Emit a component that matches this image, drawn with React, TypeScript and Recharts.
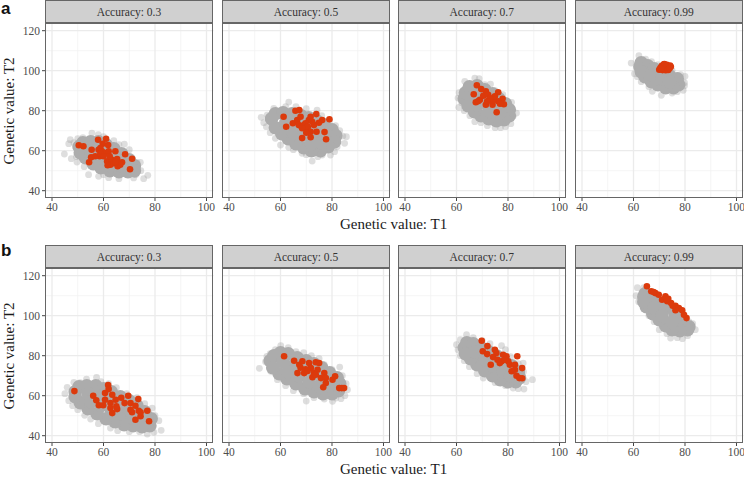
import { ReferenceLine, Scatter, ScatterChart, XAxis, YAxis } from "recharts";

type Pair = number[];

// panel a
const coreA3: Pair[] = [[50.5,62],[52,64],[55,64.5],[58,64.5],[61,63],[64,61],[67,58.5],[70,55.5],[72,52.5],[72,50],[69.5,49.5],[66,49.5],[62.5,50],[59,51.5],[56,53.5],[53,56.5],[51,59],[55,60],[59,60],[63,58],[58,56.5],[62,55],[66,55],[67,52.5],[63,52.5]];
const edgeA3: Pair[] = [[44.8,58.3],[46.5,63.5],[47.1,65.5],[48.5,64],[50,66],[52,66.5],[55.5,68.8],[58,68],[60,67],[64,65],[66,63],[68.1,63.3],[70,60.5],[68,59.5],[73,54],[74.3,54.2],[74.5,50],[77.2,47.7],[75.6,46],[71.7,46.4],[66,46],[62,46.5],[58.1,47.2],[54.2,48],[52.5,52],[49.7,54.3],[47.5,56],[49.5,57],[60,48],[72.5,48]];
const redA3: Pair[] = [[50.4,62.7],[52.2,62.2],[55.4,60.5],[54.4,54.2],[55.2,56.7],[57.9,65.5],[61,66],[59.7,63.5],[61.8,62.8],[58.1,60.5],[58.8,61.3],[59.4,59.7],[58.5,57.2],[56.8,57.2],[60.7,58.8],[62,59.7],[64.6,59.7],[68.4,58.2],[71.1,56],[70.3,50.7],[61.4,54.7],[63.3,55.5],[65.3,55.8],[64,53.8],[65.5,52.2],[67.2,54.2],[62.7,53],[66.5,53],[58.8,58.5],[60,57.2],[62.4,57.2],[64.6,54.4],[61.6,52.7]];

const coreA5: Pair[] = [[56.5,76],[58,78.5],[61,79],[64.5,78.5],[68,77.5],[71,76.5],[74,75],[77,73],[80,70.5],[81.5,67.5],[81,64.5],[78.5,62],[75.5,60],[72,60],[69,61.5],[66,63.5],[63,66],[60.5,68.5],[58,71.5],[62,74],[66,74],[70,73],[74,71],[65,69],[69,68],[73,67],[77,67],[72,63.5],[76,64]];
const edgeA5: Pair[] = [[52.5,76.7],[54.8,77.8],[57.4,81.2],[62,82],[63.2,84.3],[66,82],[70,81],[74.2,80.3],[76,77.5],[79,75],[81.4,72.5],[83,70],[85.6,67],[84.2,67.3],[84.9,63.7],[82,62],[81,59.5],[79.4,57.8],[76.2,57.8],[74.5,57],[72.3,54.8],[70,58],[68.4,58.7],[65,60.5],[63.2,61.7],[60,62.8],[58,66.2],[56,69],[54.5,72],[53.5,74]];
const redA5: Pair[] = [[61.2,77],[62.2,72],[65.8,80],[67.3,80.3],[64.8,73.7],[66.5,75.3],[67.8,77],[67.1,72.8],[69.1,72.8],[71,75.3],[73.9,78.3],[71.7,77],[76.2,75.3],[74.9,74],[79,75.7],[73,72.8],[70.4,70.3],[68.4,66.3],[71.7,66.7],[74,69.5],[77.1,69.3],[77.7,65.7],[69.7,73.7],[70.6,72],[72.3,74.5],[71.7,69.5],[68.4,71.2],[70,69]];

const coreA7: Pair[] = [[63,86],[63.5,89],[65,92],[68,92.5],[71,90.5],[74,88.5],[76.5,86],[79,83.5],[80.5,80.5],[80.5,77.5],[78.5,75.5],[75.5,75],[72.5,76],[69.5,77.5],[67,79.5],[64.5,82.5],[67,88],[70,86],[68,83],[72,83],[75.5,82],[73,79.5],[77,79]];
const edgeA7: Pair[] = [[60.9,81.7],[60.6,86.3],[61,89],[63.2,94.7],[65,93],[67.1,96.3],[68.8,96],[71,93],[73.2,93.3],[75,90],[78,88],[81.4,84.2],[83.3,78.8],[82,77.2],[81.1,73.5],[79,72],[77.1,71.5],[75,71.5],[72,72.5],[69.5,74],[67.1,74.5],[65.2,77.5],[63,80],[62,84]];
const redA7: Pair[] = [[67.9,92.7],[66.7,88.2],[69.6,90.8],[71.4,89.7],[76.2,89.2],[67.5,84.2],[69.1,85.5],[70.4,87.5],[72.3,88],[71.4,83],[74,83],[75.6,79.2],[78.4,83.2],[77.9,86],[76.2,84.7],[74.2,85.2],[72.7,85.2],[74.9,87.2],[73,86.3],[71.9,84.7],[76.9,83.5],[68.5,84.8]];

const coreA99: Pair[] = [[62.5,102],[63,104],[65.5,102.5],[68,101],[71,99],[74,97.5],[77,96],[77.5,93],[75.5,91.5],[72.5,91.5],[69.5,93],[67,94.5],[64.5,97],[63,99.5],[67,98],[71,96],[74,94.5]];
const edgeA99: Pair[] = [[59.1,103.8],[60.4,98.5],[62.1,107.5],[64.7,105.8],[67,104.5],[69.5,103],[72,101],[75,100],[78.3,98],[80,97.2],[79.8,94],[79.8,92.5],[79.3,90.2],[77,89.5],[75,88.8],[70.8,87.7],[67.3,89.7],[66,92],[63,94.5],[61.5,97]];
const redA99: Pair[] = [[70,100.5],[70.5,101.5],[71,102.5],[71.3,100.3],[71.8,103.2],[72,101.3],[72.5,100.2],[72.8,102],[73,103],[73.3,100.8],[73.8,101.8],[74.2,102.6],[74.5,102],[70.3,100.8],[71.5,101.8],[72.2,102.6],[73.5,100.4],[72,103.3],[70.8,101],[74,101.2]];

// panel b
const coreB3: Pair[] = [[49,62],[50.5,64.5],[53.5,65],[57,65],[60,63.5],[63,62],[66.5,59.5],[70,57.5],[73,55],[76,52],[78.5,48.5],[78,45],[75,44.5],[71.5,45],[68,45.5],[64.5,47],[61,48.5],[57.5,51],[54,53.5],[51,56.5],[49,59.5],[54,61],[58,60],[62,58],[55,57],[59,55],[63,53],[67,51],[71,49],[75,48],[66,56],[70,53],[74,50.5]];
const edgeB3: Pair[] = [[45,61],[46.5,57.5],[45.9,64.2],[48.5,66.7],[51,66.5],[53.4,68.3],[57.3,69.2],[59,67],[62,66],[65,64],[69,61],[73,59],[76,56],[78.9,53.8],[80,50],[81.5,47.5],[82.4,42.7],[79.6,41.7],[77,40.8],[74,42],[70,42],[65.5,42.5],[62.7,43.8],[58,46],[55,48.3],[52.7,50.2],[50,53],[48,55]];
const redB3: Pair[] = [[48.7,62.3],[56,60],[61.8,65.3],[62,63.3],[60.6,61.3],[63.4,60.5],[57.2,57.7],[58.2,55.2],[60.6,58],[59.9,55.2],[62.7,56.3],[64.7,58],[66.9,59],[69.6,60],[73.5,58.3],[68.2,56.3],[70.5,56.3],[72.4,55],[77,52.5],[77.7,47.2],[72.4,48],[74.4,49.7],[71.1,51.7],[70.5,53],[63.4,51.3],[65.3,53.3],[62.7,53.8],[65,54.7],[73.7,52.5],[74.4,51.7]];

const coreB5: Pair[] = [[56,77.5],[57.5,80],[60,81.5],[63,81],[66.5,79],[70,77.5],[73,76],[76,74],[79,71.5],[82,69],[83,66],[82.5,62.5],[80,61],[76.5,61],[73,62],[69.5,63.5],[66,66],[62.5,68.5],[59.5,71],[57,74],[61,77],[65,75],[69,73],[73,71],[77,68.5],[63,72],[67,70],[71,67],[75,65],[79,65]];
const edgeB5: Pair[] = [[51.8,73.7],[54.7,79.7],[54.2,77],[56,81],[58,83],[60.1,85],[63,84],[66,82],[69,81.5],[72,80],[75,78.5],[77,75.5],[80,73],[83,74.3],[84,70],[85.5,66],[86,63],[85,60],[83.5,58.5],[81.5,58.8],[80.2,57.2],[77,58.3],[73,59],[70,57.3],[69,61],[65,62.5],[62,65],[58.8,68],[56.2,72.2]];
const redB5: Pair[] = [[61.4,79.7],[65.3,77.5],[67.3,75.5],[68.5,77.2],[71.1,76.3],[73.7,76.7],[75,76.3],[66.6,71.3],[69.2,71.3],[71.8,73.8],[73,71.3],[74.4,73],[77,71.3],[72.4,69.2],[75.7,68.8],[77.6,68.8],[77.6,66.3],[76.6,64.2],[80.2,68],[81.2,69.7],[82.8,63.8],[84.7,63.8],[83.8,63.8],[67.8,74],[69.8,73.2],[70.5,72.4],[73.7,70.5]];

const coreB7: Pair[] = [[63,84],[64,86.5],[66.5,86],[69.5,84],[72.5,82],[75.5,80],[78.5,77.5],[81.5,75],[84,72],[84.5,69],[83,67],[80,67],[77,68],[74,70],[71,72.5],[68,75.5],[65.5,78.5],[63.5,81],[67,82],[70,80],[71,78],[75,75],[74,75],[78,72],[81,70]];
const edgeB7: Pair[] = [[60.6,83],[60,85.5],[61.5,88],[63.9,90.5],[66.5,89],[70,87.5],[73,86],[77.5,85],[79,83],[81,79.5],[85.9,76.3],[84,76],[86,72],[89.5,68],[87,67],[86.2,63.3],[84,63.5],[82,63.8],[79,65],[75,66.5],[70.4,68.8],[68,71],[65,74.5],[63,77.5],[61.5,80]];
const redB7: Pair[] = [[69.8,87.5],[72,84.8],[70.2,82.2],[71.9,80.8],[74.9,83],[75.5,81.3],[83.6,79.7],[73.3,75.5],[74.2,79.3],[75.9,78],[78.1,80.5],[79.4,79.7],[77.5,77.2],[80.7,75.5],[82.7,75.5],[85.5,73.8],[81.4,72.2],[83.3,70],[85.5,68.7],[84.4,68.8],[82.7,73],[80.1,77.2],[76.8,76.3],[78.8,78]];

const coreB99: Pair[] = [[64,109.5],[64.5,111],[67,108.5],[69.5,106],[72,104],[76,101.5],[79,98],[81.5,94.5],[81,93],[78,92.5],[75,93],[72.5,95],[70,98],[67.5,101],[65,104.5],[64,107],[68,104],[71,100],[75,97]];
const edgeB99: Pair[] = [[61.5,114],[61,110],[62,107],[64,103.5],[66,100],[68,97],[70,93],[73,91],[74.4,88.8],[77,89],[79,88.5],[81,90],[84,93],[83,96],[81.5,97],[79,100],[76,103],[73,106],[70,109],[66.5,112],[64,114]];
const redB99: Pair[] = [[65.2,114.7],[66.9,112.2],[68.5,111.3],[69.8,110.5],[72.4,109.7],[71.1,108],[73.1,107.2],[74.6,106.3],[76.3,105],[77.6,103.8],[76.3,102.7],[78.9,102.7],[80.6,98.8],[79.6,100.5],[73.5,108.5],[75.2,105],[67.8,111.8],[72.8,108.2]];

const accuracyLabels = ["Accuracy: 0.3", "Accuracy: 0.5", "Accuracy: 0.7", "Accuracy: 0.99"];
const axisTicks = [40, 60, 80, 100];
const yTicks = [40, 60, 80, 100, 120];
const xMinor = [50, 70, 90];
const yMinor = [50, 70, 90, 110];

const SERIF = '"Liberation Serif", serif';
const PANEL_W = 168.5;
const PANEL_H = 175;
const PAD = 22;
const panelLefts = [44.7, 221.7, 397.5, 574.5];
const GRID_MAJOR = "#ebebeb";
const GRID_MINOR = "#f2f2f2";

const toPoints = (pairs: Pair[]) => pairs.map(([x, y]) => ({ x, y }));

const dot = (r: number, fill: string, opacity = 1) => (p: any) => (
  <circle cx={p.cx} cy={p.cy} r={r} fill={fill} fillOpacity={opacity} />
);

type PanelProps = {
  left: number;
  top: number;
  label: string;
  core: Pair[];
  edge: Pair[];
  red: Pair[];
  showY: boolean;
};

const Panel = ({ left, top, label, core, edge, red, showY }: PanelProps) => (
  <>
    <div
      style={{
        position: "absolute", left, top: top - 23, width: PANEL_W, height: 23, boxSizing: "border-box",
        background: "#d0d0d0", border: "1px solid #666", textAlign: "center",
        font: `11.5px ${SERIF}`, lineHeight: "23px", color: "#333",
      }}
    >
      {label}
    </div>
    <div style={{ position: "absolute", left: left - PAD, top }}>
      <ScatterChart
        width={PANEL_W + PAD * 2}
        height={PANEL_H + PAD}
        margin={{ top: 0, right: PAD, bottom: 0, left: 0 }}
      >
        <XAxis
          type="number"
          dataKey="x"
          domain={[37.28, 102.72]}
          ticks={axisTicks}
          height={PAD}
          axisLine={false}
          tickLine={{ stroke: "#444" }}
          tickSize={3}
          tick={{ fontFamily: SERIF, fontSize: 11.5, fill: "#4d4d4d" }}
          interval={0}
        />
        <YAxis
          type="number"
          dataKey="y"
          domain={[36.35, 123.85]}
          ticks={yTicks}
          width={PAD}
          axisLine={false}
          tickLine={showY ? { stroke: "#444" } : false}
          tickSize={3}
          tick={showY ? { fontFamily: SERIF, fontSize: 11.5, fill: "#4d4d4d" } : false}
          interval={0}
        />
        {xMinor.map((v) => <ReferenceLine key={`xm${v}`} x={v} stroke={GRID_MINOR} strokeWidth={0.8} />)}
        {yMinor.map((v) => <ReferenceLine key={`ym${v}`} y={v} stroke={GRID_MINOR} strokeWidth={0.8} />)}
        {axisTicks.map((v) => <ReferenceLine key={`x${v}`} x={v} stroke={GRID_MAJOR} strokeWidth={1.3} />)}
        {yTicks.map((v) => <ReferenceLine key={`y${v}`} y={v} stroke={GRID_MAJOR} strokeWidth={1.3} />)}
        <Scatter data={toPoints(edge)} shape={dot(3.4, "#a8a8a8", 0.38)} isAnimationActive={false} />
        <Scatter data={toPoints(core)} shape={dot(6.8, "#acacac")} isAnimationActive={false} />
        <Scatter data={toPoints(red)} shape={dot(3.3, "#dc3a0c")} isAnimationActive={false} />
      </ScatterChart>
    </div>
    <div
      style={{
        position: "absolute", left, top, width: PANEL_W, height: PANEL_H, boxSizing: "border-box",
        border: "1px solid #666", pointerEvents: "none",
      }}
    />
  </>
);

const rowA = [
  { core: coreA3, edge: edgeA3, red: redA3 },
  { core: coreA5, edge: edgeA5, red: redA5 },
  { core: coreA7, edge: edgeA7, red: redA7 },
  { core: coreA99, edge: edgeA99, red: redA99 },
];
const rowB = [
  { core: coreB3, edge: edgeB3, red: redB3 },
  { core: coreB5, edge: edgeB5, red: redB5 },
  { core: coreB7, edge: edgeB7, red: redB7 },
  { core: coreB99, edge: edgeB99, red: redB99 },
];

const titleStyle = { position: "absolute", font: `15px ${SERIF}`, color: "#1a1a1a", whiteSpace: "nowrap" } as const;
const tagStyle = { position: "absolute", left: 1, font: 'bold 17px "Liberation Sans", sans-serif', color: "#111" } as const;

const Row = ({ top, rows, tag, tagTop }: { top: number; rows: typeof rowA; tag: string; tagTop: number }) => (
  <>
    <div style={{ ...tagStyle, top: tagTop }}>{tag}</div>
    {rows.map((r, i) => (
      <Panel key={i} left={panelLefts[i]} top={top} label={accuracyLabels[i]} {...r} showY={i === 0} />
    ))}
    <div style={{ ...titleStyle, left: 340, top: top + 193 }}>Genetic value: T1</div>
    <div
      style={{
        ...titleStyle, left: 9, top: top + 88, transform: "translate(-50%, -50%) rotate(-90deg)",
      }}
    >
      Genetic value: T2
    </div>
  </>
);

export default function App() {
  return (
    <div style={{ position: "absolute", left: 0, top: 0, width: 744, height: 477, overflow: "hidden", background: "#fff" }}>
      <Row top={23} rows={rowA} tag="a" tagTop={-1} />
      <Row top={268.3} rows={rowB} tag="b" tagTop={241} />
    </div>
  );
}
